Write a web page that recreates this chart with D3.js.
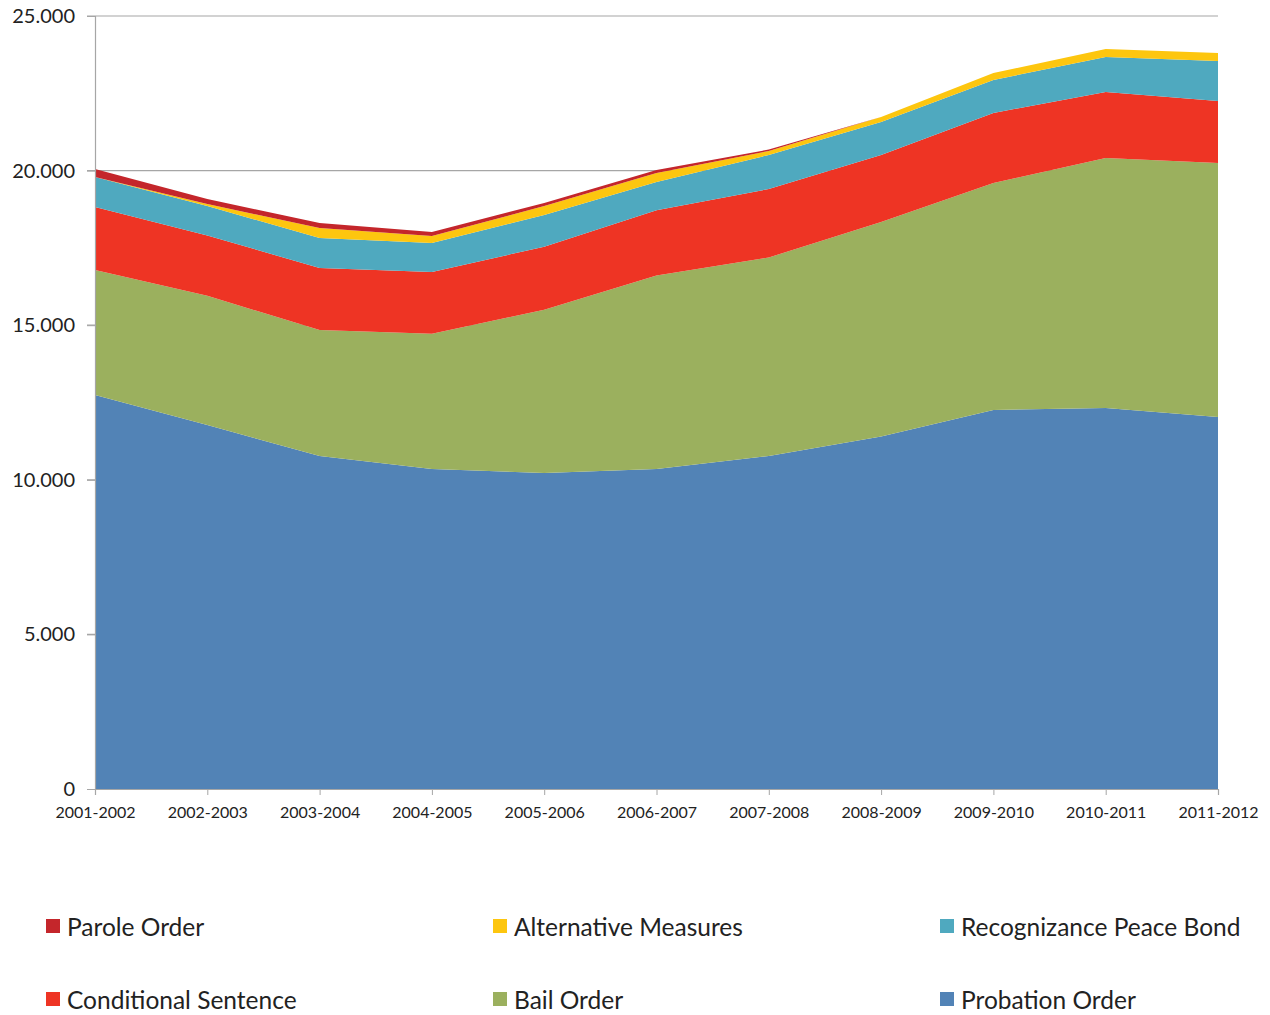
<!DOCTYPE html>
<html>
<head>
<meta charset="utf-8">
<script src="https://cdn.jsdelivr.net/npm/d3@7"></script>
<style>
    body { margin: 0; background: #fff; }
    text { font-family: Lato, "Open Sans", sans-serif; fill: #222; }
</style>
</head>
<body>
<div id="chart"></div>
<script>
// categories + series
const years = ["2001-2002", "2002-2003", "2003-2004", "2004-2005", "2005-2006", "2006-2007",
    "2007-2008", "2008-2009", "2009-2010", "2010-2011", "2011-2012"];

const probationOrder = [12740, 11770, 10770, 10350, 10220, 10350, 10770, 11400, 12260, 12320, 12030];
const bailOrder = [4045, 4180, 4075, 4370, 5280, 6260, 6420, 6940, 7340, 8090, 8215];
const conditionalSentence = [2040, 1950, 2005, 2000, 2040, 2110, 2215, 2165, 2265, 2135, 2005];
const recognizancePeaceBond = [970, 955, 970, 940, 1025, 910, 1100, 1070, 1065, 1130, 1295];
const alternativeMeasures = [0, 65, 325, 225, 290, 290, 130, 160, 225, 260, 260];
const paroleOrder = [260, 160, 160, 130, 100, 100, 45, 0, 0, 0, 0];

const yTicks = [0, 5000, 10000, 15000, 20000, 25000];

// stack order bottom -> top
const seriesNames = ["Probation Order", "Bail Order", "Conditional Sentence",
    "Recognizance Peace Bond", "Alternative Measures", "Parole Order"];
const seriesValues = [probationOrder, bailOrder, conditionalSentence,
    recognizancePeaceBond, alternativeMeasures, paroleOrder];
const colors = ["#5283b6", "#9bb05e", "#ee3424", "#4fa9bf", "#fdc60f", "#c4262b"];

let margin = {top: 16, right: 52, bottom: 226, left: 95};
let totalW = 1270, totalH = 1015;
let width = totalW - margin.left - margin.right;
let height = totalH - margin.top - margin.bottom;

let svg = d3.select("#chart").append("svg")
    .attr("width", totalW)
    .attr("height", totalH)
    .append("g")
    .attr("transform", "translate(" + margin.left + "," + margin.top + ")");

// build table for d3.stack
let table = years.map(function (y, i) {
    let row = {year: y};
    seriesNames.forEach(function (n, j) { row[n] = seriesValues[j][i]; });
    return row;
});
let stacked = d3.stack().keys(seriesNames)(table);

let x = d3.scalePoint().domain(years).range([0, width]);
let y = d3.scaleLinear().domain([0, 25000]).range([height, 0]);

let locale = d3.formatLocale({decimal: ",", thousands: ".", grouping: [3], currency: ["", ""]});
let fmt = locale.format(",");

// gridlines
svg.append("g")
    .selectAll("line")
    .data(yTicks.slice(1))
    .enter().append("line")
    .attr("x1", -8)
    .attr("x2", width)
    .attr("y1", d => y(d))
    .attr("y2", d => y(d))
    .attr("stroke", "#a6a6a6")
    .attr("stroke-width", 1.2);

// areas
let area = d3.area()
    .x(d => x(d.data.year))
    .y0(d => y(d[0]))
    .y1(d => y(d[1]));

svg.selectAll(".layer")
    .data(stacked)
    .enter().append("path")
    .attr("class", "layer")
    .attr("fill", (d, i) => colors[i])
    .attr("d", area);

// y axis
let yAxis = svg.append("g")
    .call(d3.axisLeft(y).tickValues(yTicks).tickFormat(fmt).tickSize(8).tickPadding(12));
yAxis.select(".domain").attr("stroke", "#a6a6a6").attr("stroke-width", 1.2);
yAxis.selectAll(".tick line").attr("stroke", "#a6a6a6");
yAxis.selectAll("text").style("font-size", "20px").attr("fill", "#222");

// x axis
let xAxis = svg.append("g")
    .attr("transform", "translate(0," + height + ")")
    .call(d3.axisBottom(x).tickSize(6).tickPadding(12));
xAxis.select(".domain").attr("stroke", "#a6a6a6").attr("stroke-width", 1.2);
xAxis.selectAll(".tick line").attr("stroke", "#a6a6a6");
xAxis.selectAll("text").style("font-size", "16px").attr("fill", "#222");

// legend
let legendItems = [
    {name: "Parole Order", col: 0, row: 0},
    {name: "Alternative Measures", col: 1, row: 0},
    {name: "Recognizance Peace Bond", col: 2, row: 0},
    {name: "Conditional Sentence", col: 0, row: 1},
    {name: "Bail Order", col: 1, row: 1},
    {name: "Probation Order", col: 2, row: 1}
];
let legendX = [46, 493, 940];
let legendY = [919, 992];

let legend = d3.select("svg").append("g");
legendItems.forEach(function (item) {
    let idx = seriesNames.indexOf(item.name);
    let lx = legendX[item.col], ly = legendY[item.row];
    legend.append("rect")
        .attr("x", lx)
        .attr("y", ly)
        .attr("width", 14)
        .attr("height", 14)
        .attr("fill", colors[idx]);
    legend.append("text")
        .attr("x", lx + 21)
        .attr("y", ly + 17)
        .style("font-size", "24.5px")
        .text(item.name);
});
</script>
</body>
</html>
